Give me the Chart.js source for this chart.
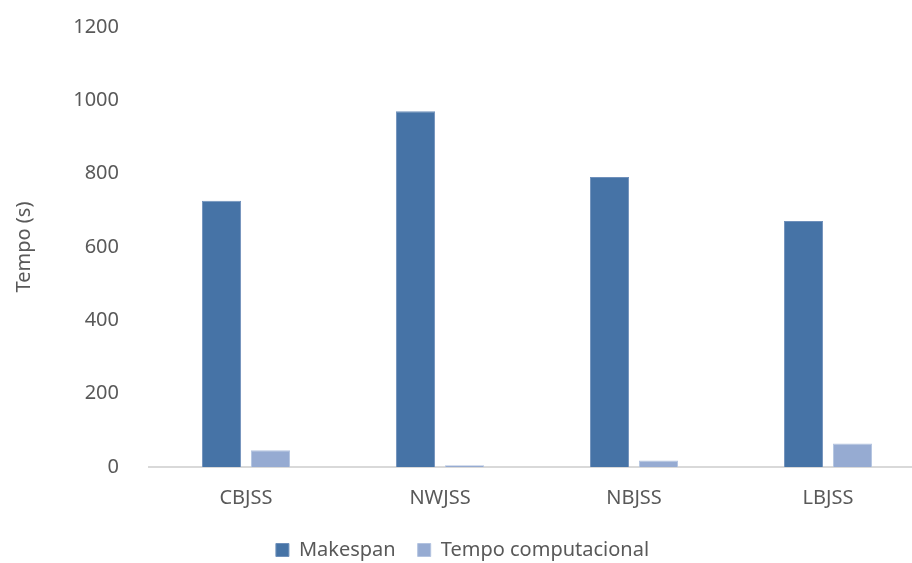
<!DOCTYPE html>
<html>
<head>
<meta charset="utf-8">
<script src="https://cdn.jsdelivr.net/npm/chart.js@4.4.0/dist/chart.umd.min.js"></script>
<style>
    html, body { margin: 0; padding: 0; background: #fff; overflow: hidden; }
    #wrap { width: 930px; height: 577px; margin-top: -7px; }
</style>
</head>
<body>
<div id="wrap"><canvas id="chart"></canvas></div>
<script>
// Chart data
const categories = ['CBJSS', 'NWJSS', 'NBJSS', 'LBJSS'];
const makespan = [726, 970, 791, 671];
const tempoComputacional = [46, 5, 18, 64];
const yTicks = [0, 200, 400, 600, 800, 1000, 1200];

const textColor = '#595959';
const font = { family: 'Noto Sans', size: 20 };

new Chart(document.getElementById('chart'), {
    type: 'bar',
    data: {
        labels: categories,
        datasets: [
            {
                label: 'Makespan',
                data: makespan,
                backgroundColor: '#4673a6',
                borderColor: '#6f90bb',
                borderWidth: 1,
                categoryPercentage: 0.505,
                barPercentage: 0.8
            },
            {
                label: 'Tempo computacional',
                data: tempoComputacional,
                backgroundColor: '#96abd2',
                borderColor: '#b3c3e0',
                borderWidth: 1,
                categoryPercentage: 0.505,
                barPercentage: 0.8
            }
        ]
    },
    options: {
        responsive: true,
        maintainAspectRatio: false,
        animation: false,
        layout: { padding: { top: 5, right: 5, left: 0, bottom: 0 } },
        plugins: {
            legend: {
                position: 'bottom',
                labels: {
                    color: textColor,
                    font: font,
                    boxWidth: 13,
                    boxHeight: 13,
                    padding: 22
                }
            },
            tooltip: { enabled: false }
        },
        scales: {
            x: {
                grid: { display: false },
                border: { display: true, color: '#d9d9d9', width: 2 },
                ticks: { color: textColor, font: font, padding: 11 },
                afterFit: s => { s.height = 51; }
            },
            y: {
                min: 0,
                max: 1200,
                afterBuildTicks: s => { s.ticks = yTicks.map(v => ({ value: v })); },
                grid: { display: false },
                border: { display: false },
                ticks: {
                    color: textColor,
                    font: font,
                    padding: 22,
                    callback: v => String(v)
                },
                title: {
                    display: true,
                    text: 'Tempo (s)',
                    color: textColor,
                    font: font,
                    padding: { top: 12, bottom: 0 }
                },
                afterFit: s => { s.width = 149; }
            }
        }
    }
});
</script>
</body>
</html>
